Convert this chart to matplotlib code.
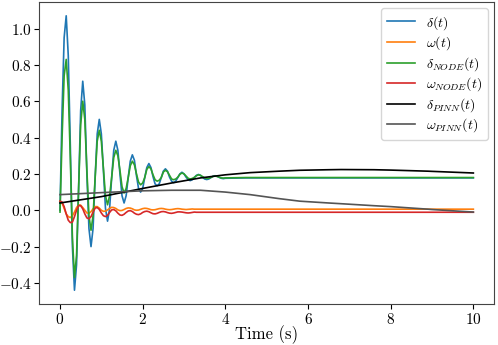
import numpy as np
import matplotlib
matplotlib.use('Agg')
import matplotlib.pyplot as plt

plt.rcParams['font.family'] = 'serif'
plt.rcParams['font.serif'] = ['cmr10']
plt.rcParams['mathtext.fontset'] = 'cm'
plt.rcParams['axes.formatter.use_mathtext'] = True

# time grid for the oscillating part (0 .. 4 s, read every 0.05 s) + the slow tail
t_fast = np.round(np.arange(0, 4.001, 0.05), 2)
t_tail = [4.5, 5.0, 6.0, 7.0, 8.0, 9.0, 10.0]
t = np.concatenate([t_fast, t_tail])

delta = [0.00, 0.55, 0.95, 1.07, 0.85, 0.35, -0.20, -0.44, -0.30, 0.12,
         0.55, 0.71, 0.58, 0.20, -0.10, -0.20, -0.10, 0.18, 0.42, 0.50,
         0.42, 0.22, 0.01, -0.06, 0.01, 0.18, 0.33, 0.38, 0.33, 0.20,
         0.08, 0.04, 0.08, 0.18, 0.27, 0.305, 0.275, 0.19, 0.12, 0.10,
         0.12, 0.18, 0.235, 0.257, 0.235, 0.185, 0.145, 0.135, 0.145, 0.18,
         0.215, 0.228, 0.215, 0.182, 0.16, 0.152, 0.16, 0.18, 0.20, 0.209,
         0.20, 0.182, 0.168, 0.163, 0.168, 0.18, 0.192, 0.197, 0.192, 0.181,
         0.172, 0.169, 0.172, 0.18, 0.187, 0.19, 0.187, 0.181, 0.176, 0.174,
         0.176,
         0.178, 0.178, 0.178, 0.178, 0.178, 0.178, 0.178]

omega = [0.05, 0.04, 0.01, -0.02, -0.035, -0.04, -0.03, -0.01, 0.015, 0.03,
         0.028, 0.015, 0.0, -0.015, -0.016, -0.008, 0.008, 0.02, 0.02, 0.012,
         0.0, -0.006, -0.005, 0.002, 0.01, 0.016, 0.015, 0.01, 0.002, -0.002,
         -0.001, 0.004, 0.01, 0.013, 0.012, 0.008, 0.002, 0.0, 0.001, 0.005,
         0.009, 0.011, 0.01, 0.007, 0.003, 0.002, 0.003, 0.006, 0.009, 0.01,
         0.009, 0.006, 0.004, 0.003, 0.004, 0.006, 0.008, 0.009, 0.008, 0.006,
         0.005, 0.004, 0.005, 0.006, 0.007, 0.006, 0.006, 0.006, 0.006, 0.006,
         0.006, 0.006, 0.006, 0.006, 0.006, 0.006, 0.006, 0.006, 0.006, 0.006,
         0.006,
         0.006, 0.006, 0.006, 0.006, 0.006, 0.006, 0.006]

delta_node = [-0.01, 0.40, 0.74, 0.83, 0.66, 0.28, -0.15, -0.37, -0.25, 0.12,
              0.47, 0.60, 0.50, 0.22, -0.03, -0.11, -0.03, 0.18, 0.38, 0.44,
              0.38, 0.23, 0.08, 0.03, 0.08, 0.18, 0.29, 0.33, 0.30, 0.22,
              0.13, 0.095, 0.12, 0.18, 0.245, 0.27, 0.25, 0.20, 0.155, 0.14,
              0.15, 0.18, 0.225, 0.24, 0.228, 0.195, 0.168, 0.16, 0.165, 0.18,
              0.21, 0.22, 0.212, 0.192, 0.172, 0.168, 0.172, 0.182, 0.198, 0.205,
              0.20, 0.188, 0.176, 0.172, 0.175, 0.181, 0.19, 0.195, 0.192, 0.185,
              0.178, 0.175, 0.176, 0.18, 0.186, 0.188, 0.186, 0.182, 0.178, 0.177,
              0.178,
              0.18, 0.18, 0.18, 0.18, 0.18, 0.18, 0.18]

omega_node = [0.05, 0.045, 0.02, -0.02, -0.055, -0.068, -0.065, -0.035, 0.0, 0.025,
              0.025, 0.008, -0.02, -0.042, -0.047, -0.035, -0.01, 0.012, 0.015, 0.005,
              -0.015, -0.03, -0.035, -0.028, -0.012, 0.002, 0.004, -0.003, -0.016, -0.026,
              -0.028, -0.022, -0.012, -0.004, -0.002, -0.007, -0.016, -0.022, -0.024, -0.02,
              -0.012, -0.007, -0.005, -0.008, -0.014, -0.019, -0.02, -0.017, -0.012, -0.008,
              -0.007, -0.009, -0.013, -0.016, -0.017, -0.015, -0.012, -0.009, -0.009, -0.01,
              -0.012, -0.014, -0.015, -0.014, -0.012, -0.01, -0.011, -0.011, -0.011, -0.011,
              -0.011, -0.011, -0.011, -0.011, -0.011, -0.011, -0.011, -0.011, -0.011, -0.011,
              -0.011,
              -0.011, -0.011, -0.011, -0.011, -0.011, -0.011, -0.011]

# PINN curves are smooth, read at fewer points
t_pinn = [0.0, 1.0, 2.0, 2.7, 3.4, 4.0, 4.6, 5.3, 5.8, 6.5, 6.8, 7.6, 8.0, 8.9, 9.0, 10.0]
delta_pinn = [0.04, 0.075, 0.12, 0.15, 0.178, 0.195, 0.207, 0.215, 0.22, 0.223, 0.224,
              0.223, 0.221, 0.215, 0.214, 0.205]
omega_pinn = [0.086, 0.097, 0.107, 0.11, 0.11, 0.10, 0.086, 0.064, 0.05, 0.04, 0.036,
              0.025, 0.02, 0.006, 0.004, -0.01]

fig = plt.figure(figsize=(4.98, 3.45), dpi=100)
ax = fig.add_axes([0.079, 0.119, 0.913, 0.875])

lw = 1.2
ax.plot(t, delta, color='tab:blue', lw=lw, label=r'$\delta(t)$')
ax.plot(t, omega, color='tab:orange', lw=lw, label=r'$\omega(t)$')
ax.plot(t, delta_node, color='tab:green', lw=lw, label=r'$\delta_{NODE}(t)$')
ax.plot(t, omega_node, color='tab:red', lw=lw, label=r'$\omega_{NODE}(t)$')
ax.plot(t_pinn, delta_pinn, color='black', lw=lw, label=r'$\delta_{PINN}(t)$')
ax.plot(t_pinn, omega_pinn, color='#555555', lw=lw, label=r'$\omega_{PINN}(t)$')

ax.set_xticks([0, 2, 4, 6, 8, 10])
ax.set_yticks([-0.4, -0.2, 0.0, 0.2, 0.4, 0.6, 0.8, 1.0])
ax.tick_params(labelsize=11, pad=2)
for s in ax.spines.values():
    s.set_color('#444444')
ax.set_xlabel('Time (s)', fontsize=12, labelpad=-1)
ax.legend(loc='upper right', fontsize=10, labelspacing=0.2, borderaxespad=0.45)

plt.savefig('out.png', dpi=100)
